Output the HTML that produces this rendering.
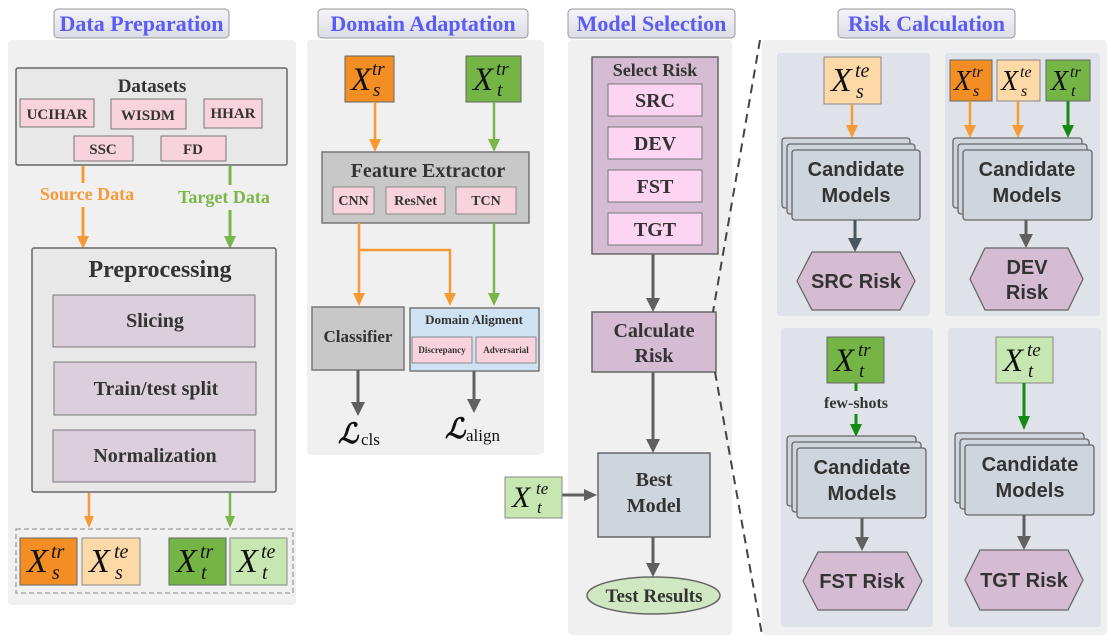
<!DOCTYPE html>
<html><head><meta charset="utf-8"><style>
html,body{margin:0;padding:0;background:#fff;}
svg{display:block;}
text{font-family:"Liberation Serif",serif;font-weight:bold;fill:#333;}
.t{fill:#5b5bf5;font-size:22px;}
.m{font-style:italic;font-weight:normal;fill:#111;}
</style></head><body>
<svg width="1111" height="643" viewBox="0 0 1111 643" xmlns="http://www.w3.org/2000/svg">
<defs>
<linearGradient id="tg" x1="0" y1="0" x2="0" y2="1"><stop offset="0" stop-color="#f4f4f8"/><stop offset="1" stop-color="#dcdce6"/></linearGradient>
<marker id="ao" markerWidth="10" markerHeight="10" refX="5" refY="8" orient="auto" markerUnits="userSpaceOnUse" viewBox="0 0 10 10"><path d="M0,0 L10,0 L5,10 z" fill="#f59a35" transform="rotate(-90 5 5)"/></marker>
</defs>
<!-- panels -->
<rect x="8" y="40" width="288" height="565" rx="4" fill="#f0f0f0"/>
<rect x="307" y="40" width="237" height="415" rx="4" fill="#f0f0f0"/>
<rect x="568" y="40" width="164" height="595" rx="4" fill="#f0f0f0"/>
<rect x="762" y="40" width="345" height="595" rx="4" fill="#f0f0f0"/>
<!-- titles -->
<rect x="54" y="9" width="175" height="29" rx="4" fill="url(#tg)" stroke="#999"/>
<text class="t" x="141.5" y="31" text-anchor="middle">Data Preparation</text>
<rect x="318" y="9" width="210" height="29" rx="4" fill="url(#tg)" stroke="#999"/>
<text class="t" x="423" y="31" text-anchor="middle">Domain Adaptation</text>
<rect x="568" y="9" width="167" height="29" rx="4" fill="url(#tg)" stroke="#999"/>
<text class="t" x="651.5" y="31" text-anchor="middle">Model Selection</text>
<rect x="838" y="9" width="177" height="29" rx="4" fill="url(#tg)" stroke="#999"/>
<text class="t" x="926.5" y="31" text-anchor="middle">Risk Calculation</text>

<!-- Data prep -->
<rect x="16" y="68" width="271" height="97" rx="2" fill="#e8e8e8" stroke="#666" stroke-width="1.5"/>
<text x="152" y="92" font-size="19" text-anchor="middle">Datasets</text>
<g fill="#f8d3dd" stroke="#777">
<rect x="20" y="99" width="74" height="28"/><rect x="111" y="99" width="75" height="30"/><rect x="204" y="99" width="58" height="29"/>
<rect x="74" y="136" width="59" height="25"/><rect x="161" y="136" width="65" height="25"/></g>
<g font-size="15" text-anchor="middle"><text x="57" y="119">UCIHAR</text><text x="148" y="120">WISDM</text><text x="233" y="118">HHAR</text><text x="103" y="154">SSC</text><text x="193" y="154">FD</text></g>
<line x1="83" y1="166" x2="83" y2="183" stroke="#f59a35" stroke-width="3"/>
<line x1="83" y1="207" x2="83" y2="238" stroke="#f59a35" stroke-width="3"/>
<path d="M77,236 L89,236 L83,249z" fill="#f59a35"/>
<text x="87" y="200" font-size="18" fill="#f59a35" text-anchor="middle" style="fill:#f59a35">Source Data</text>
<line x1="230" y1="166" x2="230" y2="185" stroke="#7ab648" stroke-width="3"/>
<line x1="230" y1="210" x2="230" y2="238" stroke="#7ab648" stroke-width="3"/>
<path d="M224,236 L236,236 L230,249z" fill="#7ab648"/>
<text x="224" y="203" font-size="18" text-anchor="middle" style="fill:#7ab648">Target Data</text>
<rect x="32" y="248" width="244" height="244" rx="2" fill="#e8e8e8" stroke="#666" stroke-width="1.5"/>
<text x="160" y="277" font-size="24" text-anchor="middle">Preprocessing</text>
<g fill="#dccfdc" stroke="#777"><rect x="53" y="295" width="202" height="52"/><rect x="54" y="362" width="202" height="53"/><rect x="53" y="430" width="202" height="52"/></g>
<g font-size="20" text-anchor="middle"><text x="155" y="327">Slicing</text><text x="156" y="395">Train/test split</text><text x="155" y="462">Normalization</text></g>
<line x1="89" y1="493" x2="89" y2="518" stroke="#f59a35" stroke-width="2.5"/><path d="M84,516 L94,516 L89,528z" fill="#f59a35"/>
<line x1="230" y1="493" x2="230" y2="518" stroke="#7ab648" stroke-width="2.5"/><path d="M225,516 L235,516 L230,528z" fill="#7ab648"/>
<rect x="16" y="529" width="277" height="64" fill="none" stroke="#aaa" stroke-width="1.5" stroke-dasharray="5,3"/>
<rect x="20" y="538" width="57" height="47" fill="#f28e24" stroke="#666"/>
<rect x="82" y="538" width="58" height="47" fill="#fdd9a8" stroke="#888"/>
<rect x="169" y="538" width="57" height="47" fill="#74b545" stroke="#666"/>
<rect x="230" y="538" width="57" height="47" fill="#c6e7b1" stroke="#888"/>
<g class="m"><text class="m" x="27" y="572" font-size="34">X</text><text class="m" x="51" y="558" font-size="20">tr</text><text class="m" x="52" y="579" font-size="20">s</text>
<text class="m" x="89" y="572" font-size="34">X</text><text class="m" x="114" y="558" font-size="20">te</text><text class="m" x="115" y="579" font-size="20">s</text>
<text class="m" x="176" y="572" font-size="34">X</text><text class="m" x="200" y="558" font-size="20">tr</text><text class="m" x="201" y="579" font-size="20">t</text>
<text class="m" x="237" y="572" font-size="34">X</text><text class="m" x="261" y="558" font-size="20">te</text><text class="m" x="262" y="579" font-size="20">t</text></g>

<!-- Domain adaptation -->
<rect x="345" y="56" width="49" height="46" fill="#f28e24" stroke="#666"/>
<rect x="466" y="56" width="55" height="46" fill="#74b545" stroke="#666"/>
<text class="m" x="351" y="90" font-size="33">X</text><text class="m" x="372" y="75" font-size="19">tr</text><text class="m" x="373" y="96" font-size="19">s</text>
<text class="m" x="473" y="90" font-size="33">X</text><text class="m" x="496" y="75" font-size="19">tr</text><text class="m" x="497" y="96" font-size="19">t</text>
<line x1="375" y1="102" x2="375" y2="140" stroke="#f59a35" stroke-width="2.5"/><path d="M369,139 L381,139 L375,152z" fill="#f59a35"/>
<line x1="494" y1="102" x2="494" y2="140" stroke="#7ab648" stroke-width="2.5"/><path d="M488,139 L500,139 L494,152z" fill="#7ab648"/>
<rect x="322" y="152" width="207" height="71" fill="#c8c8c8" stroke="#777" stroke-width="1.5"/>
<text x="428" y="177" font-size="20" text-anchor="middle">Feature Extractor</text>
<g fill="#f8d3dd" stroke="#888"><rect x="333" y="187" width="41" height="27"/><rect x="386" y="187" width="59" height="27"/><rect x="456" y="187" width="60" height="27"/></g>
<g font-size="14" text-anchor="middle"><text x="353.5" y="205">CNN</text><text x="415.5" y="205">ResNet</text><text x="486" y="205">TCN</text></g>
<path d="M359,223 L359,295 M359,250 L450,250 L450,295" fill="none" stroke="#f59a35" stroke-width="2.5"/>
<path d="M353,293 L365,293 L359,306z M444,293 L456,293 L450,306z" fill="#f59a35"/>
<line x1="494" y1="223" x2="494" y2="295" stroke="#7ab648" stroke-width="2.5"/><path d="M488,293 L500,293 L494,306z" fill="#7ab648"/>
<rect x="312" y="307" width="92" height="63" fill="#c8c8c8" stroke="#777" stroke-width="1.5"/>
<text x="358" y="342" font-size="17" text-anchor="middle">Classifier</text>
<rect x="410" y="308" width="129" height="63" fill="#cfe2f3" stroke="#777" stroke-width="1.5"/>
<text x="474" y="324" font-size="13" text-anchor="middle">Domain Aligment</text>
<g fill="#f8d3dd" stroke="#888"><rect x="412" y="337" width="60" height="26"/><rect x="476" y="337" width="60" height="26"/></g>
<g font-size="9" text-anchor="middle"><text x="442" y="353">Discrepancy</text><text x="506" y="353">Adversarial</text></g>
<line x1="358" y1="370" x2="358" y2="404" stroke="#606060" stroke-width="3"/><path d="M351,402 L365,402 L358,416z" fill="#606060"/>
<line x1="474" y1="371" x2="474" y2="401" stroke="#606060" stroke-width="3"/><path d="M467,399 L481,399 L474,413z" fill="#606060"/>
<text x="338" y="443" font-size="28" style="font-style:italic;fill:#111">ℒ</text><text x="361" y="445" font-size="17" style="font-weight:normal;fill:#111">cls</text>
<text x="445" y="438" font-size="28" style="font-style:italic;fill:#111">ℒ</text><text x="466" y="441" font-size="17" style="font-weight:normal;fill:#111">align</text>

<!-- Model Selection -->
<rect x="592" y="57" width="126" height="197" fill="#d5bcd3" stroke="#666" stroke-width="1.5"/>
<text x="655" y="76" font-size="18" text-anchor="middle">Select Risk</text>
<g fill="#fdd5f3" stroke="#777"><rect x="608" y="84" width="94" height="32"/><rect x="608" y="127" width="94" height="32"/><rect x="608" y="170" width="94" height="32"/><rect x="608" y="213" width="94" height="32"/></g>
<g font-size="20" text-anchor="middle"><text x="655" y="107">SRC</text><text x="655" y="150">DEV</text><text x="655" y="193">FST</text><text x="655" y="236">TGT</text></g>
<g stroke="#606060" stroke-width="3"><line x1="653" y1="254" x2="653" y2="300"/><line x1="653" y1="372" x2="653" y2="441"/><line x1="653" y1="537" x2="653" y2="565"/><line x1="562" y1="495" x2="585" y2="495"/></g>
<g fill="#606060"><path d="M646,298 L660,298 L653,312z"/><path d="M646,439 L660,439 L653,453z"/><path d="M646,563 L660,563 L653,577z"/><path d="M584,489 L584,501 L597,495z"/></g>
<rect x="592" y="312" width="124" height="60" fill="#d5bcd3" stroke="#666" stroke-width="1.5"/>
<text x="654" y="337" font-size="20" text-anchor="middle">Calculate</text><text x="654" y="362" font-size="20" text-anchor="middle">Risk</text>
<rect x="598" y="453" width="112" height="84" fill="#cfd5dd" stroke="#666" stroke-width="1.5"/>
<text x="654" y="486" font-size="20" text-anchor="middle">Best</text><text x="654" y="512" font-size="20" text-anchor="middle">Model</text>
<ellipse cx="653.5" cy="595.5" rx="66.5" ry="18.5" fill="#cfe8c2" stroke="#666" stroke-width="1.5"/>
<text x="654" y="602" font-size="19" text-anchor="middle">Test Results</text>
<rect x="505" y="477" width="57" height="41" fill="#c6e7b1" stroke="#888"/>
<text class="m" x="512" y="507" font-size="30">X</text><text class="m" x="536" y="494" font-size="17">te</text><text class="m" x="537" y="513" font-size="17">t</text>
<!-- dashed zoom lines -->
<g stroke="#444" stroke-width="2" stroke-dasharray="9,6"><line x1="760" y1="40" x2="713" y2="312"/><line x1="715" y1="372" x2="762" y2="635"/></g>

<!-- Risk calc sub panels -->
<g fill="#dfe2e8"><rect x="777" y="53" width="153" height="263" rx="3"/><rect x="945" y="53" width="155" height="263" rx="3"/><rect x="781" y="328" width="152" height="299" rx="3"/><rect x="948" y="328" width="153" height="299" rx="3"/></g>
<!-- TL -->
<rect x="824" y="57" width="57" height="47" fill="#fdd9a8" stroke="#888"/>
<text class="m" x="831" y="91" font-size="34">X</text><text class="m" x="855" y="77" font-size="20">te</text><text class="m" x="856" y="98" font-size="20">s</text>
<line x1="852" y1="104" x2="852" y2="127" stroke="#f59a35" stroke-width="2.5"/><path d="M846,125 L858,125 L852,138z" fill="#f59a35"/>
<g fill="#cfd5dd" stroke="#666" stroke-width="1.3"><rect x="782" y="138" width="128" height="70" rx="3"/><rect x="787" y="144" width="128" height="70" rx="3"/><rect x="792" y="150" width="128" height="70" rx="3"/></g>
<text x="856" y="176" font-size="20" text-anchor="middle" style="font-family:'Liberation Sans',sans-serif">Candidate</text><text x="856" y="202" font-size="20" text-anchor="middle" style="font-family:'Liberation Sans',sans-serif">Models</text>
<line x1="855" y1="220" x2="855" y2="240" stroke="#4a5560" stroke-width="3"/><path d="M848,238 L862,238 L855,252z" fill="#4a5560"/>
<polygon points="797,281 812,252 900,252 915,281 900,310 812,310" fill="#d5bcd3" stroke="#666" stroke-width="1.3"/>
<text x="856" y="288" font-size="20" text-anchor="middle" style="font-family:'Liberation Sans',sans-serif">SRC Risk</text>
<!-- TR -->
<rect x="950" y="60" width="42" height="41" fill="#f28e24" stroke="#666"/>
<rect x="997" y="60" width="43" height="41" fill="#fdd9a8" stroke="#888"/>
<rect x="1046" y="60" width="44" height="41" fill="#74b545" stroke="#666"/>
<text class="m" x="954" y="90" font-size="28">X</text><text class="m" x="972" y="77" font-size="16">tr</text><text class="m" x="973" y="96" font-size="16">s</text>
<text class="m" x="1001" y="90" font-size="28">X</text><text class="m" x="1020" y="77" font-size="16">te</text><text class="m" x="1021" y="96" font-size="16">s</text>
<text class="m" x="1051" y="90" font-size="28">X</text><text class="m" x="1070" y="77" font-size="16">tr</text><text class="m" x="1071" y="96" font-size="16">t</text>
<line x1="970" y1="101" x2="970" y2="127" stroke="#f59a35" stroke-width="2.5"/><path d="M964,125 L976,125 L970,138z" fill="#f59a35"/>
<line x1="1018" y1="101" x2="1018" y2="127" stroke="#f59a35" stroke-width="2.5"/><path d="M1012,125 L1024,125 L1018,138z" fill="#f59a35"/>
<line x1="1068" y1="101" x2="1068" y2="127" stroke="#148c14" stroke-width="3"/><path d="M1062,125 L1074,125 L1068,138z" fill="#148c14"/>
<g fill="#cfd5dd" stroke="#666" stroke-width="1.3"><rect x="953" y="138" width="129" height="70" rx="3"/><rect x="958" y="144" width="129" height="70" rx="3"/><rect x="963" y="150" width="129" height="70" rx="3"/></g>
<text x="1027" y="176" font-size="20" text-anchor="middle" style="font-family:'Liberation Sans',sans-serif">Candidate</text><text x="1027" y="202" font-size="20" text-anchor="middle" style="font-family:'Liberation Sans',sans-serif">Models</text>
<line x1="1026" y1="220" x2="1026" y2="236" stroke="#606060" stroke-width="3"/><path d="M1019,234 L1033,234 L1026,248z" fill="#606060"/>
<polygon points="970,279 985,248 1068,248 1083,279 1068,310 985,310" fill="#d5bcd3" stroke="#666" stroke-width="1.3"/>
<text x="1027" y="274" font-size="20" text-anchor="middle" style="font-family:'Liberation Sans',sans-serif">DEV</text><text x="1027" y="299" font-size="20" text-anchor="middle" style="font-family:'Liberation Sans',sans-serif">Risk</text>
<!-- BL -->
<rect x="827" y="337" width="57" height="46" fill="#74b545" stroke="#666"/>
<text class="m" x="834" y="371" font-size="33">X</text><text class="m" x="858" y="356" font-size="19">tr</text><text class="m" x="859" y="377" font-size="19">t</text>
<line x1="856" y1="383" x2="856" y2="391" stroke="#148c14" stroke-width="3"/>
<text x="856" y="408" font-size="16" text-anchor="middle">few-shots</text>
<line x1="856" y1="414" x2="856" y2="426" stroke="#148c14" stroke-width="3"/><path d="M850,424 L862,424 L856,437z" fill="#148c14"/>
<g fill="#cfd5dd" stroke="#666" stroke-width="1.3"><rect x="787" y="436" width="129" height="70" rx="3"/><rect x="792" y="442" width="129" height="70" rx="3"/><rect x="797" y="448" width="129" height="70" rx="3"/></g>
<text x="862" y="474" font-size="20" text-anchor="middle" style="font-family:'Liberation Sans',sans-serif">Candidate</text><text x="862" y="500" font-size="20" text-anchor="middle" style="font-family:'Liberation Sans',sans-serif">Models</text>
<line x1="862" y1="518" x2="862" y2="539" stroke="#606060" stroke-width="3"/><path d="M855,537 L869,537 L862,551z" fill="#606060"/>
<polygon points="803,581 818,552 907,552 922,581 907,610 818,610" fill="#d5bcd3" stroke="#666" stroke-width="1.3"/>
<text x="862" y="588" font-size="20" text-anchor="middle" style="font-family:'Liberation Sans',sans-serif">FST Risk</text>
<!-- BR -->
<rect x="996" y="337" width="57" height="46" fill="#c6e7b1" stroke="#888"/>
<text class="m" x="1003" y="371" font-size="33">X</text><text class="m" x="1027" y="356" font-size="19">te</text><text class="m" x="1028" y="377" font-size="19">t</text>
<line x1="1024" y1="383" x2="1024" y2="418" stroke="#148c14" stroke-width="3"/><path d="M1018,416 L1030,416 L1024,430z" fill="#148c14"/>
<g fill="#cfd5dd" stroke="#666" stroke-width="1.3"><rect x="955" y="433" width="129" height="70" rx="3"/><rect x="960" y="439" width="129" height="70" rx="3"/><rect x="965" y="445" width="129" height="70" rx="3"/></g>
<text x="1030" y="471" font-size="20" text-anchor="middle" style="font-family:'Liberation Sans',sans-serif">Candidate</text><text x="1030" y="497" font-size="20" text-anchor="middle" style="font-family:'Liberation Sans',sans-serif">Models</text>
<line x1="1024" y1="515" x2="1024" y2="538" stroke="#606060" stroke-width="3"/><path d="M1017,536 L1031,536 L1024,550z" fill="#606060"/>
<polygon points="965,580 980,550 1068,550 1083,580 1068,610 980,610" fill="#d5bcd3" stroke="#666" stroke-width="1.3"/>
<text x="1024" y="587" font-size="20" text-anchor="middle" style="font-family:'Liberation Sans',sans-serif">TGT Risk</text>
</svg>
</body></html>
